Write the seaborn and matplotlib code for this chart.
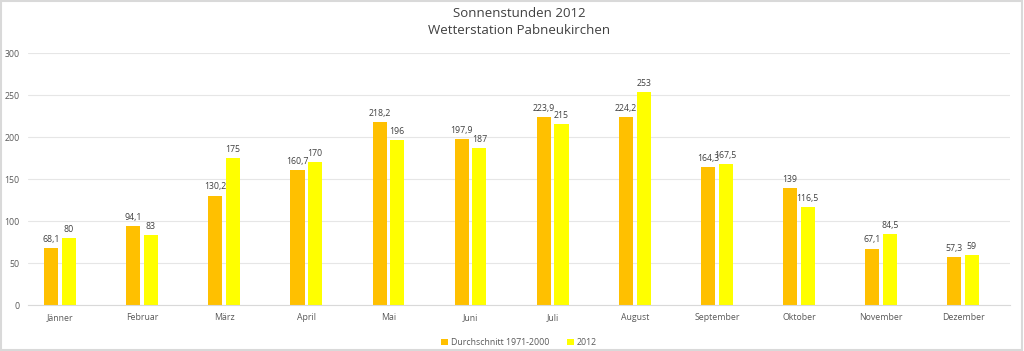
import seaborn as sns
import matplotlib.pyplot as plt
import pandas as pd

months = ["Jänner", "Februar", "März", "April", "Mai", "Juni", "Juli", "August",
          "September", "Oktober", "November", "Dezember"]
avg_1971_2000 = [68.1, 94.1, 130.2, 160.7, 218.2, 197.9, 223.9, 224.2, 164.3, 139, 67.1, 57.3]
year_2012 = [80, 83, 175, 170, 196, 187, 215, 253, 167.5, 116.5, 84.5, 59]
series_names = ["Durchschnitt 1971-2000", "2012"]

df = pd.DataFrame({
    "Monat": months * 2,
    "Stunden": avg_1971_2000 + year_2012,
    "Reihe": [series_names[0]] * 12 + [series_names[1]] * 12,
})

sns.set_style("white")
plt.rcParams["font.family"] = ["Open Sans", "DejaVu Sans"]

fig = plt.figure(figsize=(10.24, 3.51), dpi=100)
ax = fig.add_axes([0.0273, 0.131, 0.959, 0.718])

sns.barplot(data=df, x="Monat", y="Stunden", hue="Reihe", ax=ax,
            palette=["#FFC000", "#FFFF00"], saturation=1, width=0.43, gap=0.2,
            edgecolor="none", linewidth=0)

def fmt(v):
    s = f"{v:g}"
    return s.replace(".", ",")

for cont in ax.containers:
    ax.bar_label(cont, labels=[fmt(v) for v in cont.datavalues], padding=3,
                 fontsize=6.3, color="#404040")

ax.set_ylim(0, 300)
ax.set_xlim(-0.39, 11.57)
ax.set_yticks(range(0, 301, 50))
ax.yaxis.grid(True, color="#e6e6e6", linewidth=0.8)
ax.set_axisbelow(True)
ax.set_xlabel("")
ax.set_ylabel("")
ax.tick_params(axis="both", labelsize=6.3, colors="#595959", length=0, pad=6)
sns.despine(ax=ax, left=True, bottom=False)
ax.spines["bottom"].set_color("#d9d9d9")

ax.set_title("Sonnenstunden 2012\nWetterstation Pabneukirchen", fontsize=9.5,
             color="#404040", pad=14, linespacing=1.35)

ax.legend(loc="upper center", bbox_to_anchor=(0.5, -0.1), ncol=2, frameon=False,
          fontsize=6.3, labelcolor="#595959", handlelength=0.8, handleheight=0.8,
          columnspacing=2, handletextpad=0.3)

fig.patches.append(plt.Rectangle((0.001, 0.002), 0.997, 0.995, transform=fig.transFigure,
                                 fill=False, edgecolor="#d9d9d9", linewidth=1.5))

fig.savefig("out.png", dpi=100)
